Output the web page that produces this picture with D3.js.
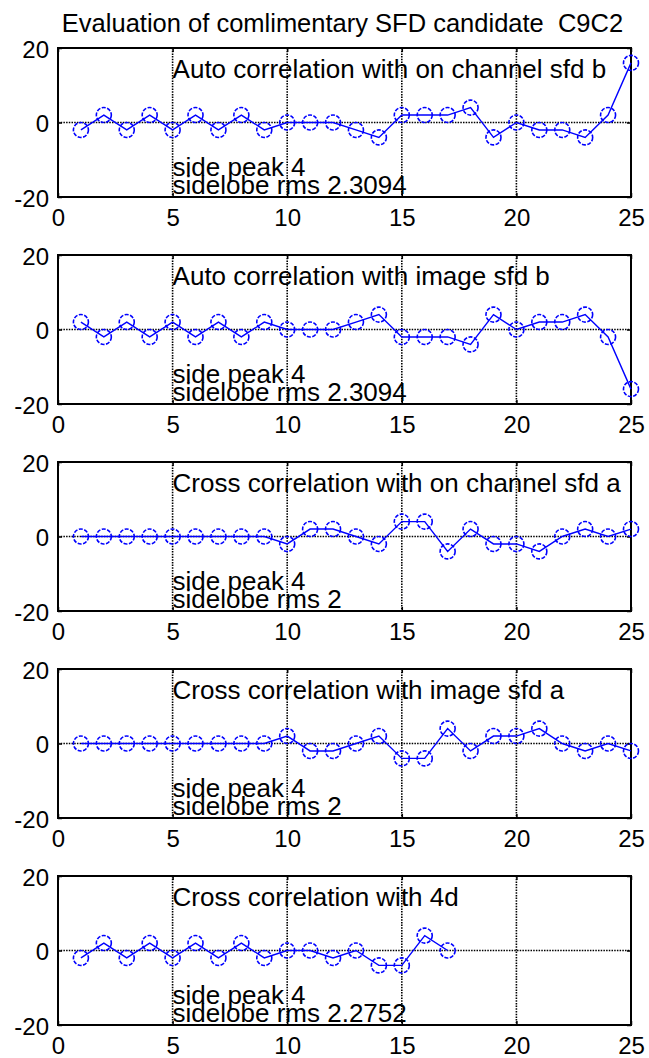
<!DOCTYPE html>
<html>
<head>
<meta charset="utf-8">
<script src="https://cdn.jsdelivr.net/npm/d3@7"></script>
<style>
  html, body { margin: 0; padding: 0; background: #fff; }
  svg { display: block; }
  text { font-family: "Liberation Sans", Arial, Helvetica, sans-serif; fill: #000; }
</style>
</head>
<body>
<script>
// ---------------- data ----------------
const chartTitle = "Evaluation of comlimentary SFD candidate  C9C2";
const xTicks = [0, 5, 10, 15, 20, 25];
const yTicks = [-20, 0, 20];
const xDomain = [0, 25];
const yDomain = [-20, 20];

const panelTitles = [
  "Auto correlation with on channel sfd b",
  "Auto correlation with image sfd b",
  "Cross correlation with on channel sfd a",
  "Cross correlation with image sfd a",
  "Cross correlation with 4d"
];
const sidePeaks = ["4", "4", "4", "4", "4"];
const sidelobeRms = ["2.3094", "2.3094", "2", "2", "2.2752"];

const autoOnChannelB = [-2, 2, -2, 2, -2, 2, -2, 2, -2, 0, 0, 0, -2, -4, 2, 2, 2, 4, -4, 0, -2, -2, -4, 2, 16];
const autoImageB     = [2, -2, 2, -2, 2, -2, 2, -2, 2, 0, 0, 0, 2, 4, -2, -2, -2, -4, 4, 0, 2, 2, 4, -2, -16];
const crossOnChannelA = [0, 0, 0, 0, 0, 0, 0, 0, 0, -2, 2, 2, 0, -2, 4, 4, -4, 2, -2, -2, -4, 0, 2, 0, 2];
const crossImageA     = [0, 0, 0, 0, 0, 0, 0, 0, 0, 2, -2, -2, 0, 2, -4, -4, 4, -2, 2, 2, 4, 0, -2, 0, -2];
const cross4d = [-2, 2, -2, 2, -2, 2, -2, 2, -2, 0, 0, -2, 0, -4, -4, 4, 0];

const seriesList = [autoOnChannelB, autoImageB, crossOnChannelA, crossImageA, cross4d];

// ---------------- layout ----------------
const W = 649, H = 1058;
const left = 58, right = 631;
const firstTop = 48, pitch = 207, panelH = 149;
const tickFont = 24, textFont = 26, titleFont = 25.5;
const blue = "#0000ff";

const svg = d3.select("body").append("svg")
  .attr("width", W).attr("height", H);

svg.append("text")
  .attr("x", (left + right) / 2 - 2)
  .attr("y", 32)
  .attr("text-anchor", "middle")
  .style("white-space", "pre")
  .attr("font-size", titleFont)
  .text(chartTitle);

const x = d3.scaleLinear().domain(xDomain).range([left, right]);

seriesList.forEach((vals, i) => {
  const top = firstTop + i * pitch;
  const bottom = top + panelH;
  const y = d3.scaleLinear().domain(yDomain).range([bottom, top]);
  const g = svg.append("g");

  // grid (dotted)
  const grid = g.append("g").attr("stroke", "#000").attr("stroke-width", 1.6)
    .attr("stroke-dasharray", "1.5,1.2");
  grid.selectAll("line.vx").data(xTicks).join("line")
    .attr("x1", d => x(d)).attr("x2", d => x(d))
    .attr("y1", top).attr("y2", bottom);
  grid.selectAll("line.hy").data(yTicks).join("line")
    .attr("x1", left).attr("x2", right)
    .attr("y1", d => y(d)).attr("y2", d => y(d));

  const fmt = d => String(d);
  // axes with inward ticks
  const axB = g.append("g").attr("transform", `translate(0,${bottom})`)
    .call(d3.axisBottom(x).tickValues(xTicks).tickFormat(fmt).tickSizeInner(-4).tickSizeOuter(0).tickPadding(12));
  const axT = g.append("g").attr("transform", `translate(0,${top})`)
    .call(d3.axisTop(x).tickValues(xTicks).tickSizeInner(-4).tickSizeOuter(0).tickFormat(""));
  const axL = g.append("g").attr("transform", `translate(${left},0)`)
    .call(d3.axisLeft(y).tickValues(yTicks).tickFormat(fmt).tickSizeInner(-4).tickSizeOuter(0).tickPadding(9));
  const axR = g.append("g").attr("transform", `translate(${right},0)`)
    .call(d3.axisRight(y).tickValues(yTicks).tickSizeInner(-4).tickSizeOuter(0).tickFormat(""));
  [axB, axT, axL, axR].forEach(a => {
    a.select(".domain").remove();
    a.selectAll(".tick line").attr("stroke", "#000").attr("stroke-width", 1.5);
    a.selectAll(".tick text").attr("font-size", tickFont).attr("fill", "#000")
      .attr("font-family", "Liberation Sans, Arial, sans-serif");
  });
  axB.selectAll(".tick text").attr("dy", "0.72em");
  axL.selectAll(".tick text").attr("dy", "0.38em");

  // box
  g.append("rect")
    .attr("x", left).attr("y", top)
    .attr("width", right - left).attr("height", panelH)
    .attr("fill", "none").attr("stroke", "#000").attr("stroke-width", 2);

  // annotations
  g.append("text")
    .attr("x", x(5)).attr("y", y(12))
    .attr("font-size", textFont)
    .text(panelTitles[i]);
  g.append("text")
    .attr("x", x(5)).attr("y", y(-14.4))
    .attr("font-size", textFont)
    .text("side peak " + sidePeaks[i]);
  g.append("text")
    .attr("x", x(5)).attr("y", y(-19.3))
    .attr("font-size", textFont)
    .text("sidelobe rms " + sidelobeRms[i]);

  // data
  const pts = vals.map((v, k) => [k + 1, v]);
  g.append("path")
    .datum(pts)
    .attr("fill", "none")
    .attr("stroke", blue)
    .attr("stroke-width", 1.4)
    .attr("d", d3.line().x(d => x(d[0])).y(d => y(d[1])));
  g.selectAll("circle").data(pts).join("circle")
    .attr("cx", d => x(d[0])).attr("cy", d => y(d[1]))
    .attr("r", 7.5)
    .attr("fill", "none")
    .attr("stroke", blue)
    .attr("stroke-width", 1.6)
    .attr("stroke-dasharray", "4,1.5");
});
</script>
</body>
</html>
